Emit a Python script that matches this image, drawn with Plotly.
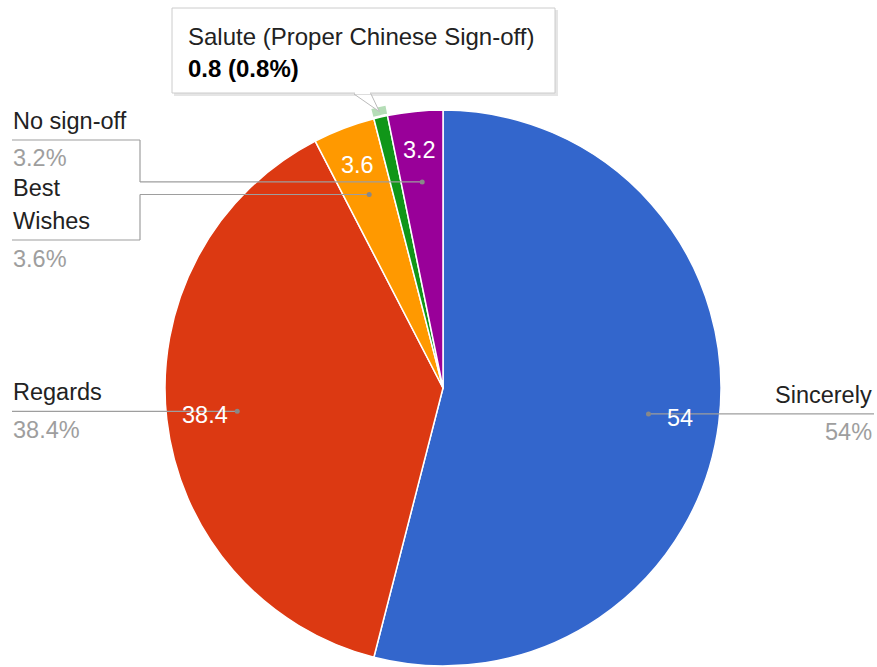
import math
import plotly.graph_objects as go

# ---- data ----
labels = ["Sincerely", "Regards", "Best Wishes", "Salute (Proper Chinese Sign-off)", "No sign-off"]
values = [54, 38.4, 3.6, 0.8, 3.2]
colors = ["#3366CC", "#DC3912", "#FF9900", "#109618", "#990099"]
legend_lines = [["Sincerely"], ["Regards"], ["Best", "Wishes"], ["Salute"], ["No sign-off"]]
highlight = "Salute (Proper Chinese Sign-off)"

W, H = 877, 667
CX, CY, R = 443, 388, 278
FONT = "Arial, Liberation Sans, sans-serif"
FS = 23.5

def px(x):
    return x / W

def py(y):
    return 1 - y / H

total = sum(values)
def pct(v):
    p = v / total * 100
    s = f"{p:.1f}"
    return s[:-2] if s.endswith(".0") else s

def ang(frac):
    return frac * 2 * math.pi

def pt(a, r):
    return CX + math.sin(a) * r, CY - math.cos(a) * r

def mid_point(i, frac):
    start = sum(values[:i]) / total
    return pt(ang(start + values[i] / total / 2), R * frac)

fig = go.Figure()

fig.add_trace(go.Pie(
    labels=labels, values=values, sort=False, direction="clockwise", rotation=0,
    marker=dict(colors=colors, line=dict(color="white", width=1.5)),
    textinfo="none", hoverinfo="label+value+percent", showlegend=False,
    domain=dict(x=[px(CX - R), px(CX + R)], y=[py(CY + R), py(CY - R)]),
))

annotations = []
shapes = []

def text(x, y, s, color, anchor="center", size=FS):
    annotations.append(dict(x=px(x), y=py(y), xref="paper", yref="paper",
                            text=s, showarrow=False, xanchor=anchor, yanchor="middle",
                            font=dict(family=FONT, size=size, color=color)))

# highlight ring around hovered slice (arc band computed from the slice angles)
hi = labels.index(highlight)
a0 = ang(sum(values[:hi]) / total)
a1 = ang(sum(values[:hi + 1]) / total)
r_in, r_out = R + 2, R + 10
n = 12
outer = [pt(a0 + (a1 - a0) * k / n, r_out) for k in range(n + 1)]
inner = [pt(a1 - (a1 - a0) * k / n, r_in) for k in range(n + 1)]
path = "M " + " L ".join(f"{px(x)},{py(y)}" for x, y in outer + inner) + " Z"
shapes.append(dict(type="path", xref="paper", yref="paper", path=path,
                   fillcolor="#B5DDB7", line=dict(width=0), layer="above"))

# inside value labels
for i, v in enumerate(values):
    if v / total < 0.02:
        continue
    x, y = mid_point(i, 0.86)
    text(x, y, f"{v:g}", "white")

LINE = "#9E9E9E"
DOT = "#888888"

def dot(x, y):
    shapes.append(dict(type="circle", xref="paper", yref="paper",
                       x0=px(x - 2.5), x1=px(x + 2.5), y0=py(y - 2.5), y1=py(y + 2.5),
                       fillcolor=DOT, line=dict(width=0), layer="above"))

def label_block(i, x_text, line_y, anchor):
    lines = legend_lines[i]
    for k, s in enumerate(lines):
        text(x_text, line_y - 19 - 33 * (len(lines) - 1 - k), s, "#222222", anchor)
    text(x_text, line_y + 18.5, pct(values[i]) + "%", "#9E9E9E", anchor)

def seg(x0, y0, x1, y1):
    shapes.append(dict(type="line", xref="paper", yref="paper",
                       x0=px(x0), y0=py(y0), x1=px(x1), y1=py(y1),
                       line=dict(color=LINE, width=1.2), layer="above"))

# Sincerely (right)
dx, dy = mid_point(0, 0.745)
seg(874, dy, dx, dy); dot(dx, dy)
label_block(0, 874, dy, "right")

# Regards (left)
dx, dy = mid_point(1, 0.745)
seg(12, dy, dx, dy); dot(dx, dy)
label_block(1, 11, dy, "left")

# No sign-off (left, elbow)
dx, dy = mid_point(4, 0.745)
ly = 140
seg(12, ly, 140, ly); seg(140, ly, 140, dy); seg(140, dy, dx, dy); dot(dx, dy)
label_block(4, 11, ly, "left")

# Best Wishes (left, elbow)
dx, dy = mid_point(2, 0.745)
ly = 240
seg(12, ly, 140, ly); seg(140, ly, 140, dy); seg(140, dy, dx, dy); dot(dx, dy)
label_block(2, 11, ly, "left")

# tooltip for highlighted slice
tx, ty = mid_point(hi, 1.02)
BX0, BY0, BX1, BY1 = 172, 8, 555, 93
shapes.append(dict(type="rect", xref="paper", yref="paper",
                   x0=px(BX0 + 2), x1=px(BX1 + 3), y0=py(BY0 + 2), y1=py(BY1 + 3),
                   fillcolor="rgba(0,0,0,0.10)", line=dict(width=0), layer="above"))
shapes.append(dict(type="path", xref="paper", yref="paper",
                   path=f"M {px(354)},{py(BY1 + 1)} L {px(tx)},{py(ty)} L {px(371)},{py(BY1 + 1)} Z",
                   fillcolor="white", line=dict(color="#BBBBBB", width=1), layer="above"))
shapes.append(dict(type="rect", xref="paper", yref="paper",
                   x0=px(BX0), x1=px(BX1), y0=py(BY0), y1=py(BY1),
                   fillcolor="white", line=dict(color="#CCCCCC", width=1), layer="above"))
shapes.append(dict(type="line", xref="paper", yref="paper",
                   x0=px(355), x1=px(370), y0=py(BY1), y1=py(BY1),
                   line=dict(color="white", width=2), layer="above"))
text(186, 37, highlight, "#222222", "left", 24)
text(186, 68, f"<b>{values[hi]:g} ({pct(values[hi])}%)</b>", "#000000", "left", 24)

fig.update_layout(
    width=W, height=H, margin=dict(l=0, r=0, t=0, b=0),
    paper_bgcolor="white", plot_bgcolor="white",
    annotations=annotations, shapes=shapes, showlegend=False,
)

fig.write_html("out.html")
